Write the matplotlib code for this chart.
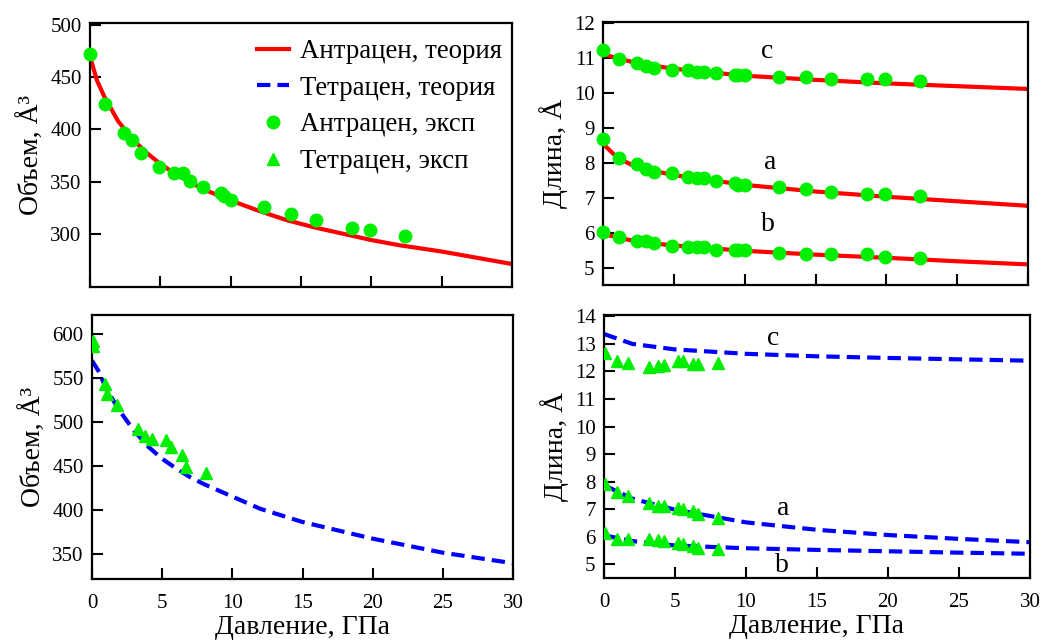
import matplotlib
matplotlib.use('Agg')
import matplotlib.pyplot as plt

plt.rcParams['font.family'] = ['Liberation Serif', 'DejaVu Serif']

# ---------------------------------------------------------
# Anthracene (Антрацен)
# ---------------------------------------------------------
p_ant_exp = [0.0, 1.1, 2.4, 3.0, 3.6, 4.9, 6.0, 6.6, 7.1, 8.0, 9.3, 9.5, 10.0, 12.4, 14.3, 16.1, 18.6, 19.9, 22.4]
v_ant_exp = [472, 424, 397, 390, 377, 364, 358, 358, 351, 345, 339, 336, 332, 326, 319, 313, 306, 304, 298]
a_ant_exp = [8.68, 8.15, 7.96, 7.83, 7.75, 7.70, 7.60, 7.56, 7.56, 7.49, 7.43, 7.37, 7.37, 7.30, 7.24, 7.17, 7.11, 7.11, 7.05]
b_ant_exp = [6.03, 5.89, 5.77, 5.77, 5.70, 5.63, 5.58, 5.58, 5.58, 5.50, 5.50, 5.50, 5.50, 5.43, 5.39, 5.38, 5.38, 5.31, 5.27]
c_ant_exp = [11.23, 10.98, 10.85, 10.78, 10.71, 10.66, 10.66, 10.61, 10.61, 10.59, 10.52, 10.52, 10.52, 10.45, 10.45, 10.40, 10.40, 10.40, 10.35]

p_ant_v = [0, 0.5, 1, 2, 3, 4, 5, 6, 8, 10, 12, 14, 16, 18, 20, 22, 25, 30]
v_ant_th = [470, 447, 432, 408, 391, 378, 367, 358, 343, 332, 322, 313, 306, 300, 294, 289, 283, 271]
p_ant_l = [0, 1, 2, 3, 5, 10, 15, 20, 25, 30]
a_ant_th = [8.55, 8.15, 7.95, 7.82, 7.65, 7.37, 7.18, 7.03, 6.90, 6.77]
b_ant_th = [5.97, 5.86, 5.78, 5.72, 5.63, 5.48, 5.37, 5.28, 5.18, 5.09]
c_ant_th = [11.12, 11.0, 10.9, 10.82, 10.70, 10.50, 10.38, 10.28, 10.20, 10.12]

# ---------------------------------------------------------
# Tetracene (Тетрацен)
# ---------------------------------------------------------
p_tet_v_exp = [0.1, 0.1, 0.9, 1.1, 1.8, 3.3, 3.8, 4.3, 5.3, 5.6, 6.4, 6.7, 8.1]
v_tet_exp = [592, 587, 543, 532, 519, 492, 484, 481, 479, 472, 462, 449, 442]
p_tet_l_exp = [0.1, 0.9, 1.7, 3.2, 3.8, 4.2, 5.2, 5.6, 6.3, 6.6, 8.0]
a_tet_exp = [7.93, 7.63, 7.46, 7.24, 7.12, 7.10, 7.04, 7.00, 6.92, 6.83, 6.68]
b_tet_exp = [6.14, 5.92, 5.92, 5.90, 5.87, 5.84, 5.78, 5.72, 5.66, 5.60, 5.56]
c_tet_exp = [12.66, 12.37, 12.31, 12.16, 12.19, 12.25, 12.37, 12.39, 12.28, 12.28, 12.31]

p_tet_v = [0, 0.5, 1, 2, 3, 4, 5, 6, 7, 8, 10, 12, 15, 20, 25, 30]
v_tet_th = [570, 557, 538, 512, 490, 472, 458, 447, 437, 429, 415, 401, 386, 367, 351, 339]
p_tet_l = [0, 2, 5, 10, 15, 20, 25, 30]
a_tet_th = [7.87, 7.38, 6.98, 6.52, 6.25, 6.06, 5.92, 5.80]
b_tet_th = [6.05, 5.84, 5.68, 5.58, 5.52, 5.47, 5.42, 5.38]
c_tet_th = [13.36, 13.0, 12.8, 12.64, 12.55, 12.49, 12.44, 12.39]

RED = '#ff0000'
BLUE = '#0000ff'
GREEN = '#00ee00'
DASH = (0, (3.2, 1.7))

fig = plt.figure(figsize=(10.46, 6.41), dpi=100)
ax_tl = fig.add_axes([0.086, 0.5523, 0.4035, 0.4117])
ax_tr = fig.add_axes([0.5765, 0.5554, 0.4063, 0.4103])
ax_bl = fig.add_axes([0.088, 0.0967, 0.4024, 0.4119])
ax_br = fig.add_axes([0.5774, 0.0983, 0.4073, 0.4103])

for ax in (ax_tl, ax_tr, ax_bl, ax_br):
    ax.set_xlim(0, 30)
    ax.set_xticks([0, 5, 10, 15, 20, 25, 30])
    ax.tick_params(direction='in', length=8, width=1.5, labelsize=15,
                   top=False, right=False, pad=6)
    for s in ax.spines.values():
        s.set_linewidth(1.6)

for ax in (ax_tl, ax_tr):
    ax.tick_params(labelbottom=False)
for ax in (ax_bl, ax_br):
    ax.tick_params(axis='x', pad=11)
    ax.set_xlabel('Давление, ГПа', fontsize=20, labelpad=1)

# top-left: anthracene volume
ax_tl.plot(p_ant_v, v_ant_th, color=RED, lw=3, label='Антрацен, теория', zorder=2)
ax_tl.plot([], [], color=BLUE, lw=3, ls=DASH, label='Тетрацен, теория')
ax_tl.plot(p_ant_exp, v_ant_exp, 'o', color=GREEN, ms=9, label='Антрацен, эксп', zorder=3, clip_on=False)
ax_tl.plot([], [], '^', color=GREEN, ms=9, label='Тетрацен, эксп')
ax_tl.set_ylim(249, 502)
ax_tl.set_yticks([300, 350, 400, 450, 500])
ax_tl.set_ylabel('Объем, Å³', fontsize=20)
ax_tl.legend(loc='upper left', bbox_to_anchor=(0.395, 0.94), frameon=False,
             fontsize=19.3, handlelength=1.2, handletextpad=0.4,
             labelspacing=0.44, borderpad=0, borderaxespad=0)

# top-right: anthracene lattice
for y_th, y_ex in ((a_ant_th, a_ant_exp), (b_ant_th, b_ant_exp), (c_ant_th, c_ant_exp)):
    ax_tr.plot(p_ant_l, y_th, color=RED, lw=3, zorder=2)
    ax_tr.plot(p_ant_exp, y_ex, 'o', color=GREEN, ms=9, zorder=3, clip_on=False)
ax_tr.set_ylim(4.5, 12.04)
ax_tr.set_yticks(range(5, 13))
ax_tr.set_ylabel('Длина, Å', fontsize=20)
ax_tr.text(11.55, 11.2, 'c', fontsize=20, ha='center', va='center')
ax_tr.text(11.8, 8.02, 'a', fontsize=20, ha='center', va='center')
ax_tr.text(11.65, 6.22, 'b', fontsize=20, ha='center', va='center')

# bottom-left: tetracene volume
ax_bl.plot(p_tet_v, v_tet_th, color=BLUE, lw=3, ls=DASH, zorder=2)
ax_bl.plot(p_tet_v_exp, v_tet_exp, '^', color=GREEN, ms=9, zorder=3)
ax_bl.set_ylim(321, 622)
ax_bl.set_yticks([350, 400, 450, 500, 550, 600])
ax_bl.set_ylabel('Объем, Å³', fontsize=20)

# bottom-right: tetracene lattice
for y_th, y_ex in ((a_tet_th, a_tet_exp), (b_tet_th, b_tet_exp), (c_tet_th, c_tet_exp)):
    ax_br.plot(p_tet_l, y_th, color=BLUE, lw=3, ls=DASH, zorder=2)
    ax_br.plot(p_tet_l_exp, y_ex, '^', color=GREEN, ms=9, zorder=3)
ax_br.set_ylim(4.5, 14.05)
ax_br.set_yticks(range(5, 15))
ax_br.set_ylabel('Длина, Å', fontsize=20)
ax_br.text(11.9, 13.2, 'c', fontsize=20, ha='center', va='center')
ax_br.text(12.6, 7.04, 'a', fontsize=20, ha='center', va='center')
ax_br.text(12.5, 4.94, 'b', fontsize=20, ha='center', va='center')

fig.savefig('out.png', dpi=100)
